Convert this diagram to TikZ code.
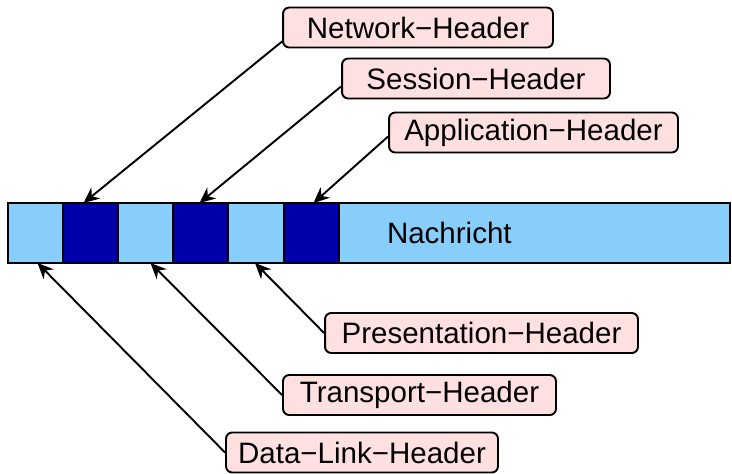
\documentclass[tikz,border=0pt]{standalone}
\usepackage{fontspec}
\setmainfont{Liberation Sans}
\usetikzlibrary{arrows.meta,positioning,calc}
\definecolor{segLight}{HTML}{87CEFA}
\definecolor{segDark}{HTML}{0000AA}
\definecolor{hdrPink}{HTML}{FFE0E0}

\begin{document}
\begin{tikzpicture}[x=0.02cm, y=-0.02cm,
    segbox/.style={rectangle, draw=black, line width=1pt, minimum height=1.2cm, minimum width=1.1cm, inner sep=0pt, outer sep=0pt, anchor=north west},
    lightseg/.style={segbox, fill=segLight},
    darkseg/.style={segbox, fill=segDark},
    hdrbox/.style={rectangle, rounded corners=3.5pt, draw=black, fill=hdrPink, line width=1.1pt, minimum height=0.8cm, inner sep=2pt, font=\fontsize{16.8}{20}\selectfont},
    ptr/.style={-{Stealth[length=9pt,width=8pt]}, line width=1.1pt},
  ]
    \useasboundingbox (0,0) rectangle (732,473);

    % the message with its headers
    \node[lightseg] (l1) at (8,203) {};
    \node[darkseg] (d1) at (63,203) {};
    \node[lightseg] (l2) at (118,203) {};
    \node[darkseg] (d2) at (173,203) {};
    \node[lightseg, minimum width=1.12cm] (l3) at (228,203) {};
    \node[darkseg] (d3) at (284,203) {};
    \node[lightseg, minimum width=7.82cm, inner xsep=0.96cm, text width=5.9cm, align=left, font=\fontsize{16.8}{20}\selectfont] (msg) at (339,203) {Nachricht};

    % labels
    \node[hdrbox, minimum width=5.4cm] (nw) at (418,27.5) {Network−Header};
    \node[hdrbox, minimum width=5.36cm] (ss) at (476,78.5) {Session−Header};
    \node[hdrbox, minimum width=5.78cm] (ap) at (533.5,132.5) {Application−Header};
    \node[hdrbox, minimum width=6.26cm] (pr) at (481.5,333) {Presentation−Header};
    \node[hdrbox, minimum width=5.46cm] (tr) at (419.5,395) {Transport−Header};
    \node[hdrbox, minimum width=5.44cm] (dl) at (362,452.5) {Data−Link−Header};

    % pointers
    \draw[ptr] ($(nw.west)+(0,14)$) -- ($(d1.north)+(-7,0)$);
    \draw[ptr] ($(ss.west)+(0,8)$) -- ($(d2.north)+(-1,0)$);
    \draw[ptr] ($(ap.west)+(0,4)$) -- ($(d3.north)+(2,0)$);
    \draw[ptr] (pr.west) -- ($(l3.south)+(-1,0)$);
    \draw[ptr] (tr.west) -- ($(l2.south)+(5,0)$);
    \draw[ptr] (dl.west) -- ($(l1.south)+(2,0)$);
  \end{tikzpicture}
\end{document}
